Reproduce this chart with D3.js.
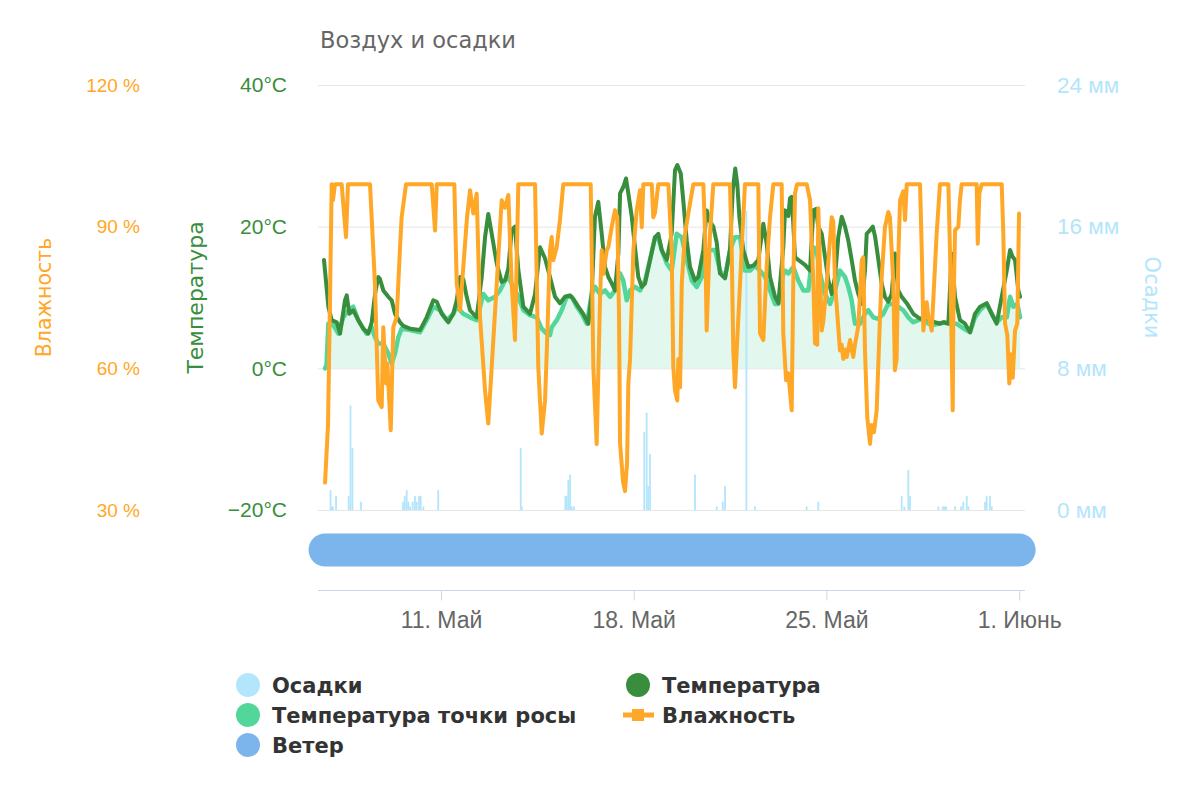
<!DOCTYPE html>
<html lang="ru">
<head>
<meta charset="utf-8">
<title>Воздух и осадки</title>
<script src="https://cdnjs.cloudflare.com/ajax/libs/d3/7.8.5/d3.min.js"></script>
<style>
  body { margin: 0; background: #fff; }
  svg { font-family: "DejaVu Sans", sans-serif; }
</style>
</head>
<body>
<svg width="1200" height="800"></svg>
<script>
// time values are hours after 6 May 00:00
const start = Date.UTC(2019, 4, 6);
const hour = 3600 * 1000;

const humidity = [[18.9,35.8],[21.5,48],[23.2,74],[24.7,99],[25.8,95.6],[27.6,99],[33.4,99],[35.4,93],[37.2,87.8],[38.9,99],[58.1,99],[62.4,78],[65.3,53.2],[68.3,51.8],[69.7,68.7],[72.1,56.8],[73.2,61],[76.2,46.9],[78.4,68.7],[81.4,70.9],[84.3,85.7],[85.7,92],[89.5,99],[111.9,99],[114.8,89.2],[116.3,99],[131.6,99],[133.7,78],[136.6,72.3],[142.7,92],[145.3,97.7],[148.2,92.8],[151.1,97],[154,70.9],[158.4,55.3],[161.2,48.3],[164.2,60.3],[168.6,78],[172.9,95.6],[175.8,94],[178.7,96.7],[181.6,78],[184.5,66],[187.4,99],[202,99],[204.8,60.3],[207.8,46.2],[210.7,53.2],[212.4,65],[215,85],[216.5,87.8],[217.9,82.9],[220.9,85.7],[223.7,91.4],[226.6,99],[250.5,99],[252.8,60.3],[255.7,44],[258.6,74.4],[260.1,85],[261.5,80],[264.5,85],[265.9,85.7],[268.8,89.9],[271.7,93.5],[273.7,92],[275.2,70.9],[276.1,44.1],[278.7,36],[280.4,34],[282.2,40],[283.3,56.8],[284.8,62],[287.7,85],[290.6,93.5],[293.5,97.7],[295,89.9],[296.4,99],[303.7,99],[305.1,92],[306.6,93],[309.4,99],[318.2,99],[321.1,85],[322.5,60.3],[324,55.3],[326,53.2],[326.9,62],[328.4,56],[329.9,78],[332.7,88.5],[337.1,95],[340,99],[348.7,99],[350.2,88.5],[351.6,68],[353,78],[354.5,88.5],[357.4,99],[371.9,99],[373.4,85],[374.8,63.8],[376.3,56],[377.8,63.8],[380.7,78],[383.5,92],[385,99],[396.6,99],[398.1,67.4],[401,66],[403.9,81.5],[406.8,92],[409.7,99],[417,99],[418.4,67.4],[420.8,57.5],[422.8,59],[425.7,51.1],[427.1,78],[428.6,97],[430.4,99],[438.8,99],[441.7,95.6],[444.6,78],[446,65.3],[448,65],[448.9,93.9],[451.9,68],[453.3,70],[456.2,78],[460.6,92],[462,91],[463.5,78],[467.8,63.8],[469.3,65],[470.7,62],[472.2,64],[473.7,62.4],[476.6,66],[478,64],[479.4,62.4],[480.9,65],[483.8,69],[486.8,82.9],[488.1,83.5],[489.6,63.8],[491.6,49.7],[494,44],[495.4,48],[497.5,46.5],[499.8,51.1],[502.7,70.9],[504.1,79],[507,89.9],[509.9,93.1],[511.4,92],[514.3,78],[515.7,59.6],[517.2,62],[518.6,83],[520.2,95.6],[523,97.5],[524.5,91.4],[526,99],[537.6,99],[539.1,85],[540.5,68],[543.4,74],[544.8,71],[547.8,68],[552.1,88.6],[555,99],[562.3,99],[563.7,85],[565.2,64],[566.1,51.1],[566.6,70],[568.1,89.2],[571,90],[572.4,95.6],[573.9,99],[587,99],[587.9,86.4],[589.3,97],[591.4,99],[608.8,99],[610.2,88.5],[611.7,69.5],[613.7,67],[615.4,56.8],[616.6,63],[618.4,58],[620.4,68],[622.4,69.5],[623.9,92.8]];

const temperature = [[18,15.3],[21.8,8.7],[24.7,6.8],[29.1,6.5],[32,4.9],[36.3,9.6],[37.8,10.3],[40.1,7.7],[43.5,8.2],[47.9,6.8],[52.3,5.6],[56.6,4.9],[59.6,6.5],[62.5,10.5],[65.3,12.9],[66.8,12.6],[69.7,11],[74.1,10.1],[77,9.6],[79.9,7.7],[84.3,6.5],[87.1,6],[93,5.6],[101.7,5.4],[107.5,7.2],[113.3,9.6],[116.3,9.4],[120.6,7.7],[126.4,6.5],[130.7,7.7],[133.7,9.6],[136.6,12.9],[139.4,12.6],[142.4,10.1],[145.3,8.2],[148.2,7.7],[151.1,7.2],[155.5,12.9],[158.4,18.5],[161.2,21.8],[164.2,19],[168.6,14.8],[172.9,12.2],[175.8,12.4],[178.7,14.1],[181.6,19.5],[184.5,20],[187.4,13.9],[191.8,8.7],[197.6,7.7],[202,10.5],[206.3,17.1],[210.7,15.5],[215,12.9],[219.4,10.1],[223.7,9.2],[228.1,10.1],[232.4,10.3],[235.3,9.8],[239.7,8.7],[244,7.7],[248.4,6.3],[251.4,10.5],[254.2,21.4],[257.1,23.5],[260.1,19],[263,14.3],[265.9,12.9],[268.8,12],[271.7,11],[274.6,16.2],[276.1,24.7],[278.9,25.6],[281.3,26.8],[283.3,24.7],[286.3,21.4],[289.1,17.1],[292,12.9],[295,11.5],[297.9,12],[302.2,15.3],[306.6,18.5],[309.4,19],[312.4,16.7],[316.8,15.3],[321.1,19],[324,28],[326,28.7],[329,27.5],[331.2,23.7],[334.2,18.1],[337.1,14.3],[341.4,12.4],[344.3,12.9],[348.7,16.7],[351.6,22.3],[354.5,20.7],[357.4,20],[360.4,17.7],[363.2,13.4],[367.6,12.7],[371.9,16.7],[374.3,25.1],[376.5,28.2],[378.3,26],[380.1,21.4],[383.5,16.7],[387.9,14.3],[392.3,14.5],[396.6,15.3],[401,20.4],[403.9,17.6],[406.8,12.9],[411.2,10.1],[414.1,9.2],[418.4,17.1],[419.9,22.3],[422.8,21.5],[424.2,24],[425.7,24.2],[427.1,20.4],[428.6,15.7],[431.5,15.3],[437.3,14.6],[441.7,13.8],[444.6,22.3],[446.9,22.5],[448.9,20],[451.9,19],[454.8,15.7],[457.7,12.4],[460.6,10.5],[463.5,12.9],[466.3,18.5],[469.3,21.4],[472.2,20],[475,18.1],[478,15.3],[480.9,12.4],[483.8,10.5],[486.8,9.1],[489.6,13.8],[491.1,19],[494,19.5],[496.4,20],[498.4,18.6],[501.3,15.3],[504.1,12],[507,10.1],[509.9,9.4],[512.9,10.5],[515.7,16.2],[518.6,11],[521.6,10.1],[526,9.2],[531.7,7.7],[537.6,7],[541.9,7.2],[546.3,6.8],[550.6,6.5],[555,6.3],[557.9,6.5],[562.3,6.3],[565.2,16.2],[568.1,10.1],[572.4,6.8],[576.8,6.3],[581.2,5.1],[585.5,7.7],[589.9,8.7],[595.7,9.2],[600.1,7.7],[604.4,6.3],[608.8,10.1],[613.2,13.8],[616.1,16.7],[618.1,15.8],[620.4,15.3],[623.3,11],[624.8,10.1]];

const dewPoint = [[18.9,0],[20.2,0.5],[21.8,6.3],[26.1,6.1],[30.5,4.9],[34.8,7.2],[39.2,8.2],[43.5,8.7],[47.9,6.8],[52.3,5.6],[55.2,4.9],[59.6,5.8],[62.5,4.4],[65.3,3.5],[69.7,3.5],[74.1,2.1],[77,0.7],[79.9,2.1],[82.8,4.4],[85.7,5.6],[93,5.4],[101.7,5.1],[107.5,6.8],[113.3,8.7],[119.1,8.2],[125,6.8],[130.7,7.7],[133.7,8.7],[139.4,7.7],[145.3,7.2],[151.1,6.8],[156.9,10.5],[161.2,9.6],[167.1,10.1],[171.4,11],[175.8,12.4],[178.7,12.9],[183,11.5],[187.4,10.1],[191.8,8.2],[197.6,7.5],[203.4,7.2],[207.8,5.6],[212.1,4.9],[215,4.7],[216.5,5.8],[220.9,6.8],[225.2,8.2],[229.6,10.1],[233.9,10.1],[238.4,8.7],[242.7,7.7],[247.1,6.3],[251.4,10.5],[254.2,11.5],[258.6,10.5],[263,11],[267.4,10.1],[271.7,11],[276.1,13.4],[278.9,12.4],[281.9,9.6],[284.8,11],[289.1,11.5],[293.5,11],[297.9,12.4],[302.2,15.3],[306.6,18.5],[309.4,18.5],[312.4,16.7],[316.8,14.8],[321.1,13.8],[325.5,19],[329.9,18.5],[334.2,15.3],[338.6,12.4],[342.9,11.5],[347.3,12.9],[350.2,16.7],[354.5,16.7],[358.9,16.7],[363.2,13.8],[367.6,12.9],[371.9,16.7],[376.3,18.5],[380.7,18.5],[385,13.8],[389.4,13.8],[393.7,14.5],[398.1,13.8],[402.5,12.9],[406.8,11],[411.2,9.1],[414.1,9.1],[418.4,13.4],[419.9,13.8],[422.8,13.4],[427.1,14.3],[431.5,12.4],[435.9,11],[440.2,11],[444.6,17.1],[447.5,16.7],[450.4,13.4],[454.8,10.5],[459.2,9.1],[463.5,11],[467.8,13.8],[472.2,12.9],[475.1,11.5],[478,9.6],[480.9,6.3],[485.3,6.3],[489.6,7.7],[492.5,8.2],[496.8,7.2],[501.2,7],[505.6,7.7],[509.9,9.1],[514.3,9.1],[518.6,8.7],[523,8.2],[527.4,7.2],[531.7,6.5],[536.1,6.8],[540.5,7],[544.8,6.3],[549.2,6.1],[553.6,6.3],[559.4,6.5],[563.7,6.3],[569.6,6.3],[573.9,5.8],[581.2,5.1],[585.5,7.2],[589.9,8.2],[595.7,9.1],[600.1,7.7],[604.4,6.5],[608.8,7.2],[613.2,7.2],[616.1,10.1],[619,8.7],[622.4,9.1],[624.8,7.2]];

const precipitation = [[23.7,1.13],[24.5,0.2],[25.8,0.2],[28.5,0.8],[39.5,0.8],[41.1,5.9],[42.8,3.5],[50.3,0.47],[86.9,0.47],[88.4,0.8],[90.1,1.13],[91.5,0.47],[93,0.2],[95.3,0.47],[97.3,0.8],[98.8,0.47],[100.8,0.8],[102.3,0.8],[104.6,0.2],[117.6,1.13],[189.5,3.5],[190.4,0.2],[228.4,0.8],[229.6,0.8],[231,1.7],[232.5,2.0],[233.9,0.2],[235.9,0.2],[297.2,4.4],[299.3,5.5],[300.7,1.36],[302.2,3.16],[341.4,2.0],[360.4,0.2],[365.6,0.47],[367.6,1.36],[386.2,16.9],[393.7,0.2],[438.8,0.2],[448.9,0.47],[521.6,0.8],[523.9,0.2],[527.4,2.26],[528.9,0.8],[553.6,0.2],[557.4,0.2],[558.8,0.2],[560.3,0.2],[568.1,0.2],[573.3,0.2],[575.3,0.47],[578.3,0.8],[579.7,0.2],[594.3,0.47],[595.7,0.8],[598.6,0.8],[600.1,0.2]];

const windPeriod = [18.9, 624];

const humidityTicks = [30, 60, 90, 120];
const temperatureTicks = [-20, 0, 20, 40];
const precipTicks = [0, 8, 16, 24];
const dateTicks = [Date.UTC(2019, 4, 11), Date.UTC(2019, 4, 18), Date.UTC(2019, 4, 25), Date.UTC(2019, 5, 1)];
const dateLabels = ['11. Май', '18. Май', '25. Май', '1. Июнь'];

const colors = {
  humidity: '#ffa726',
  temperature: '#388e3c',
  dew: '#52d69a',
  rain: '#b3e5fc',
  wind: '#7cb5ec'
};

const svg = d3.select('svg');
const plotLeft = 318, plotRight = 1025, plotTop = 85, plotBottom = 510;

const t = h => start + h * hour;
const x = d3.scaleUtc().domain([t(12.77), t(629.1)]).range([plotLeft, plotRight]);
const yT = d3.scaleLinear().domain([-20, 40]).range([plotBottom, plotTop]);
const yH = d3.scaleLinear().domain([30, 120]).range([plotBottom, plotTop]);
const yR = d3.scaleLinear().domain([0, 24]).range([plotBottom, plotTop]);

// title
svg.append('text')
  .attr('x', 320).attr('y', 48)
  .attr('font-size', 22.5).attr('fill', '#666')
  .text('Воздух и осадки');

// grid
svg.append('g').selectAll('line')
  .data(temperatureTicks)
  .join('line')
  .attr('x1', plotLeft).attr('x2', plotRight)
  .attr('y1', d => yT(d) + 0.5).attr('y2', d => yT(d) + 0.5)
  .attr('stroke', '#e6e6e6');

// y axes
function styleAxis(g, color, size) {
  g.select('.domain').remove();
  g.selectAll('line').remove();
  g.selectAll('text').attr('fill', color).attr('font-size', size);
}
svg.append('g')
  .attr('transform', 'translate(140,0)')
  .call(d3.axisLeft(yH).tickValues(humidityTicks).tickSize(0).tickPadding(0).tickFormat(d => d + ' %'))
  .call(styleAxis, colors.humidity, 19);
svg.append('g')
  .attr('transform', 'translate(287,0)')
  .call(d3.axisLeft(yT).tickValues(temperatureTicks).tickSize(0).tickPadding(0)
    .tickFormat(d => (d < 0 ? '\u2212' : '') + Math.abs(d) + '°C'))
  .call(styleAxis, colors.temperature, 21);
svg.append('g')
  .attr('transform', 'translate(1057,0)')
  .call(d3.axisRight(yR).tickValues(precipTicks).tickSize(0).tickPadding(0).tickFormat(d => d + ' мм'))
  .call(styleAxis, colors.rain, 22.5);

// axis titles
const midY = (plotTop + plotBottom) / 2;
svg.append('text')
  .attr('transform', `translate(51,${midY}) rotate(-90)`)
  .attr('text-anchor', 'middle').attr('font-size', 20.5).attr('fill', colors.humidity)
  .text('Влажность');
svg.append('text')
  .attr('transform', `translate(203,${midY}) rotate(-90)`)
  .attr('text-anchor', 'middle').attr('font-size', 22).attr('fill', colors.temperature)
  .text('Температура');
svg.append('text')
  .attr('transform', `translate(1145,${midY}) rotate(90)`)
  .attr('text-anchor', 'middle').attr('font-size', 21).attr('fill', colors.rain)
  .text('Осадки');

// dew point area
svg.append('path')
  .datum(dewPoint)
  .attr('fill', colors.dew).attr('fill-opacity', 0.17)
  .attr('d', d3.area().x(d => x(t(d[0]))).y0(yT(0)).y1(d => yT(d[1])));

// precipitation
svg.append('g').selectAll('rect')
  .data(precipitation)
  .join('rect')
  .attr('x', d => x(t(d[0])) - 0.9)
  .attr('width', 1.8)
  .attr('y', d => yR(d[1]))
  .attr('height', d => yR(0) - yR(d[1]))
  .attr('fill', colors.rain);

const line = (yScale) => d3.line().x(d => x(t(d[0]))).y(d => yScale(d[1]));

svg.append('path').datum(dewPoint)
  .attr('fill', 'none').attr('stroke', colors.dew).attr('stroke-width', 4.5)
  .attr('stroke-linejoin', 'round').attr('stroke-linecap', 'round')
  .attr('d', line(yT));
svg.append('path').datum(temperature)
  .attr('fill', 'none').attr('stroke', colors.temperature).attr('stroke-width', 4)
  .attr('stroke-linejoin', 'round').attr('stroke-linecap', 'round')
  .attr('d', line(yT));
svg.append('path').datum(humidity)
  .attr('fill', 'none').attr('stroke', colors.humidity).attr('stroke-width', 4)
  .attr('stroke-linejoin', 'round').attr('stroke-linecap', 'round')
  .attr('d', line(yH));

// wind band
svg.append('line')
  .attr('x1', x(t(windPeriod[0]))).attr('x2', x(t(windPeriod[1])))
  .attr('y1', 550).attr('y2', 550)
  .attr('stroke', colors.wind).attr('stroke-width', 33).attr('stroke-linecap', 'round');

// x axis
const xAxis = svg.append('g')
  .attr('transform', 'translate(0,590.5)')
  .call(d3.axisBottom(x).tickValues(dateTicks).tickSize(10).tickPadding(11)
    .tickFormat((d, i) => dateLabels[i]));
xAxis.select('.domain').attr('stroke', '#ccd6eb').attr('d', `M${plotLeft},0H${plotRight}`);
xAxis.selectAll('line').attr('stroke', '#ccd6eb');
xAxis.selectAll('text').attr('fill', '#666').attr('font-size', 23);

// legend
const legendItems = [
  { name: 'Осадки', color: colors.rain, col: 0, row: 0 },
  { name: 'Температура', color: colors.temperature, col: 1, row: 0 },
  { name: 'Температура точки росы', color: colors.dew, col: 0, row: 1 },
  { name: 'Влажность', color: colors.humidity, col: 1, row: 1, line: true },
  { name: 'Ветер', color: colors.wind, col: 0, row: 2 }
];
const legend = svg.append('g').selectAll('g')
  .data(legendItems)
  .join('g')
  .attr('transform', d => `translate(${248 + d.col * 390},${685 + d.row * 30})`);
legend.filter(d => !d.line).append('circle')
  .attr('r', 12).attr('fill', d => d.color);
legend.filter(d => d.line).append('line')
  .attr('x1', -15).attr('x2', 16).attr('stroke', d => d.color).attr('stroke-width', 5);
legend.filter(d => d.line).append('rect')
  .attr('x', -6).attr('y', -6).attr('width', 12).attr('height', 12).attr('fill', d => d.color);
legend.append('text')
  .attr('x', 24).attr('y', 8)
  .attr('font-size', 21).attr('font-weight', 'bold').attr('fill', '#333')
  .text(d => d.name);
</script>
</body>
</html>
